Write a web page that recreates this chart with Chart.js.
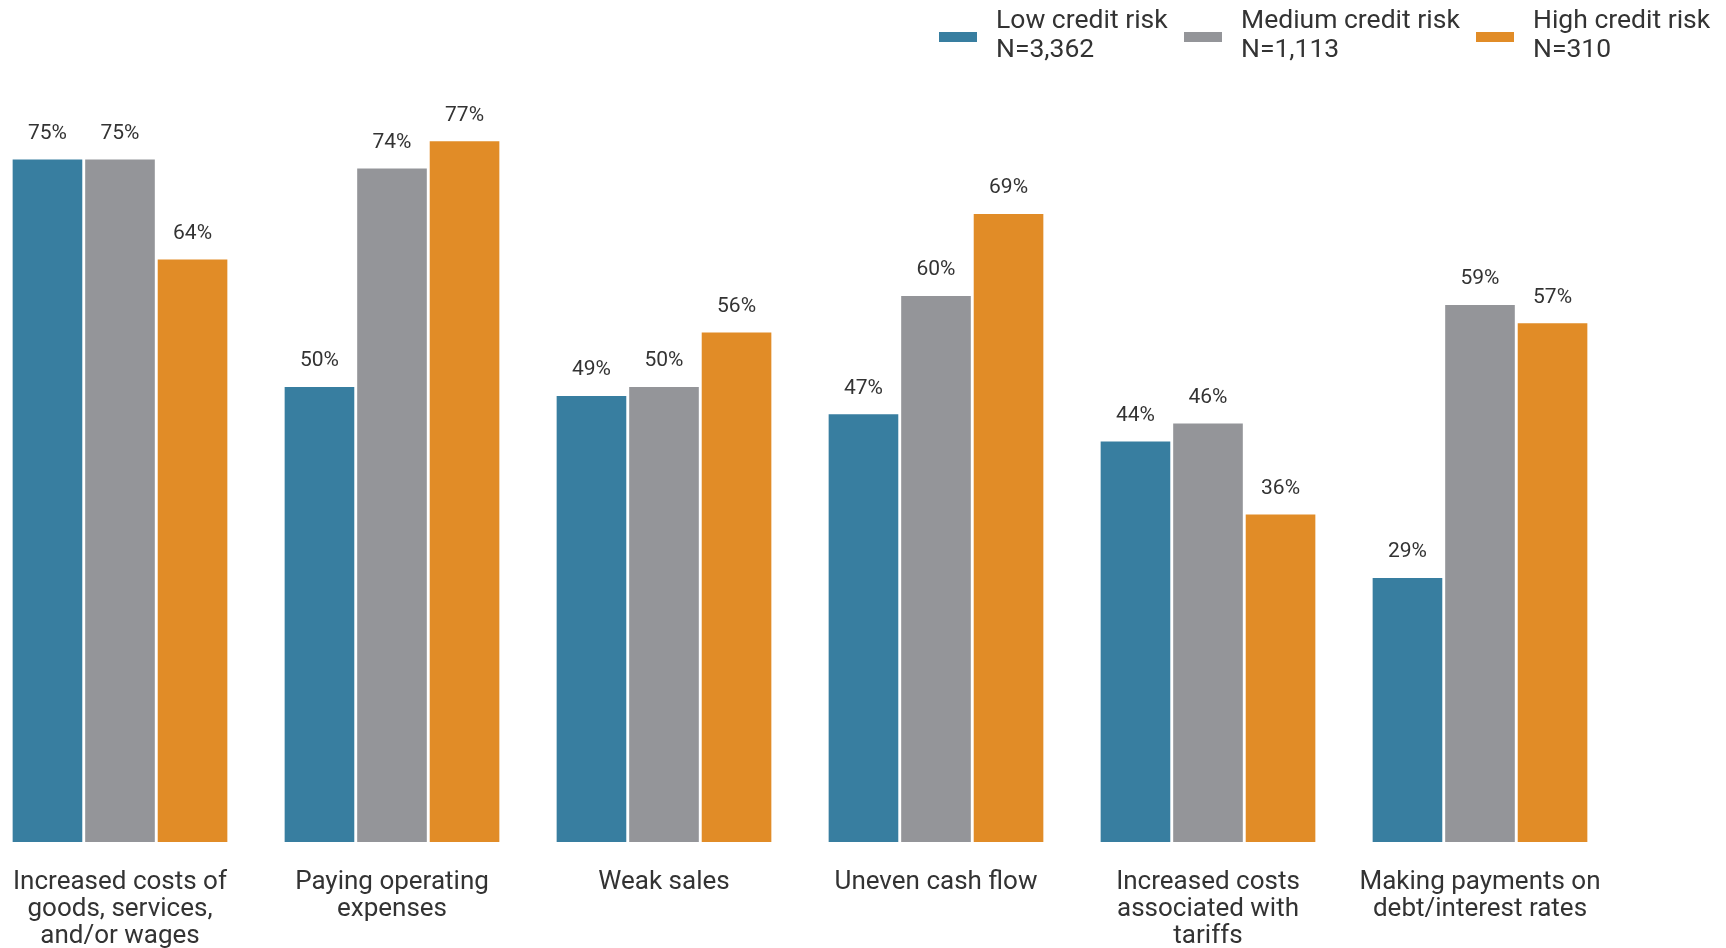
<!DOCTYPE html>
<html>
<head>
<meta charset="utf-8">
<script src="https://cdn.jsdelivr.net/npm/chart.js@4.4.1/dist/chart.umd.min.js"></script>
<style>
  html, body { margin: 0; padding: 0; background: #fff; overflow: hidden; }
  body { width: 1726px; height: 948px; position: relative; font-family: Roboto, "Noto Sans", sans-serif; }
  #wrap { position: absolute; left: -16px; top: 0; width: 1742px; height: 948px; }
  #legend { position: absolute; top: 0; left: 0; width: 1726px; height: 70px; color: #333; font-size: 26.5px; }
  .item { position: absolute; top: 4px; }
  .box { position: absolute; top: 28px; width: 38px; height: 10px; }
  .txt { position: absolute; line-height: 29px; white-space: nowrap; }
</style>
</head>
<body>
<div id="wrap"><canvas id="riskChart"></canvas></div>
<div id="legend"></div>
<script>
const categories = [
  ["Increased costs of", "goods, services,", "and/or wages"],
  ["Paying operating", "expenses"],
  "Weak sales",
  "Uneven cash flow",
  ["Increased costs", "associated with", "tariffs"],
  ["Making payments on", "debt/interest rates"]
];
const seriesNames = ["Low credit risk", "Medium credit risk", "High credit risk"];
const seriesCounts = ["N=3,362", "N=1,113", "N=310"];
const lowRisk = [75, 50, 49, 47, 44, 29];
const mediumRisk = [75, 74, 50, 60, 46, 59];
const highRisk = [64, 77, 56, 69, 36, 57];
const colors = ["#387ea0", "#949599", "#e18c27"];

// legend drawn as html, positions
const legendX = [939, 1184, 1476];
const legendEl = document.getElementById("legend");
seriesNames.forEach((name, i) => {
  legendEl.innerHTML += `
    <div class="item" style="left:${legendX[i]}px">
      <div class="box" style="background:${colors[i]}"></div>
      <div class="txt" style="left:57px">${name}<br>${seriesCounts[i]}</div>
    </div>`;
});

// percent labels above bars
const valueLabels = {
  id: "valueLabels",
  afterDatasetsDraw(chart) {
    const c = chart.ctx;
    c.save();
    c.font = "21px Roboto";
    c.fillStyle = "#333";
    c.textAlign = "center";
    c.textBaseline = "middle";
    chart.data.datasets.forEach((ds, i) => {
      chart.getDatasetMeta(i).data.forEach((bar, j) => {
        c.fillText(ds.data[j] + "%", bar.x, bar.y - 26);
      });
    });
    c.restore();
  }
};

new Chart(document.getElementById("riskChart"), {
  type: "bar",
  data: {
    labels: categories,
    datasets: [
      { label: seriesNames[0], data: lowRisk, backgroundColor: colors[0] },
      { label: seriesNames[1], data: mediumRisk, backgroundColor: colors[1] },
      { label: seriesNames[2], data: highRisk, backgroundColor: colors[2] }
    ]
  },
  options: {
    responsive: true,
    maintainAspectRatio: false,
    animation: false,
    layout: { padding: { top: 114, right: 110, left: 0, bottom: 0 } },
    datasets: { bar: { categoryPercentage: 0.8, barPercentage: 0.96 } },
    plugins: { legend: { display: false }, tooltip: { enabled: false } },
    scales: {
      x: {
        grid: { display: false },
        border: { display: false },
        ticks: {
          color: "#333",
          font: { family: "Roboto", size: 26, lineHeight: 1.04 },
          padding: 19,
          maxRotation: 0,
          autoSkip: false
        },
        afterFit(scale) { scale.height = 106; }
      },
      y: { display: false, min: 0, max: 80 }
    }
  },
  plugins: [valueLabels]
});
</script>
</body>
</html>
